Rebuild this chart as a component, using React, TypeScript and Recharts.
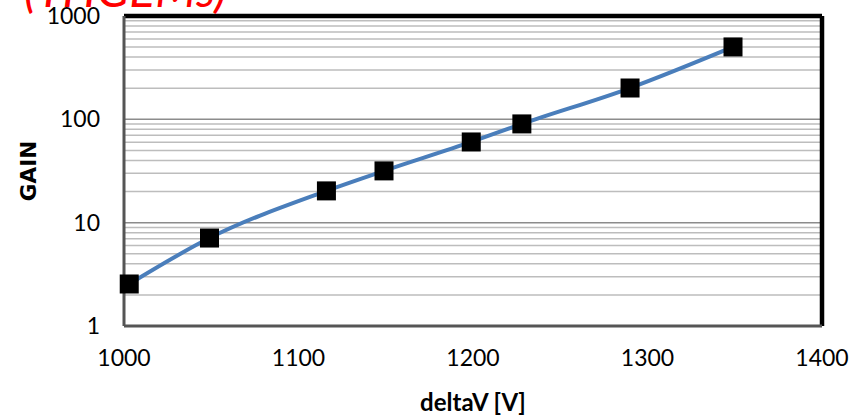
import React from 'react';
import { LineChart, Line, XAxis, YAxis, ReferenceLine } from 'recharts';

const deltaV = [1003, 1049, 1116, 1149, 1199, 1228, 1290, 1349];
const gain = [2.55, 7.1, 20.3, 31.7, 60.4, 90.3, 201, 502];
const xTicks = [1000, 1100, 1200, 1300, 1400];
const yTicks = [1, 10, 100, 1000];
const minorGrid = [2, 3, 4, 5, 6, 7, 8, 9, 20, 30, 40, 50, 60, 70, 80, 90, 200, 300, 400, 500, 600, 700, 800, 900];
const titleText = '(THGEMs)';

const data = deltaV.map((v, i) => ({ v, g: gain[i] }));
const FONT = 'Lato, "Open Sans", sans-serif';

const SquareDot = (props: any) => {
  const { cx, cy } = props;
  if (cx == null || cy == null) return null;
  return <rect x={cx - 9.5} y={cy - 9.5} width={19} height={19} fill="#000" />;
};

export default function App() {
  return (
    <div style={{ position: 'absolute', left: 0, top: 0, width: 851, height: 416, background: '#fff', overflow: 'hidden' }}>
      <LineChart width={851} height={416} data={data} margin={{ top: 16, right: 29, bottom: 0, left: 0 }}>
        <XAxis
          dataKey="v"
          type="number"
          domain={[1000, 1400]}
          ticks={xTicks}
          height={90}
          tickSize={0}
          tickMargin={24}
          axisLine={{ stroke: '#555', strokeWidth: 3 }}
          tick={{ fill: '#000', fontSize: 23, fontFamily: FONT }}
          label={{ value: 'deltaV [V]', position: 'insideBottom', offset: 5, style: { fill: '#000', fontSize: 24, fontWeight: 700, fontFamily: FONT } }}
        />
        <YAxis
          scale="log"
          domain={[1, 1000]}
          ticks={yTicks}
          allowDataOverflow
          width={124}
          tickSize={0}
          tickMargin={24}
          axisLine={{ stroke: '#555', strokeWidth: 3 }}
          tick={{ fill: '#000', fontSize: 23, fontFamily: FONT }}
          label={{ value: 'GAIN', angle: -90, position: 'insideLeft', offset: 28, style: { fill: '#000', fontSize: 21.5, fontWeight: 700, fontFamily: '"DejaVu Sans", sans-serif', textAnchor: 'middle' } }}
        />
        {minorGrid.map((m) => (
          <ReferenceLine key={'m' + m} y={m} stroke="#bdbdbd" strokeWidth={1.5} />
        ))}
        {[10, 100].map((m) => (
          <ReferenceLine key={'M' + m} y={m} stroke="#8c8c8c" strokeWidth={1.5} />
        ))}
        <ReferenceLine y={1000} stroke="#000" strokeWidth={4.5} />
        <ReferenceLine x={1400} stroke="#000" strokeWidth={4.5} />
        <Line
          dataKey="g"
          type="monotone"
          stroke="#4A7EBB"
          strokeWidth={4}
          dot={<SquareDot />}
          activeDot={false}
          isAnimationActive={false}
        />
      </LineChart>
      <div style={{ position: 'absolute', left: 24, top: -35, color: '#ff0000', fontStyle: 'italic', fontSize: 48, fontFamily: FONT, lineHeight: '48px', whiteSpace: 'nowrap' }}>
        {titleText}
      </div>
    </div>
  );
}
